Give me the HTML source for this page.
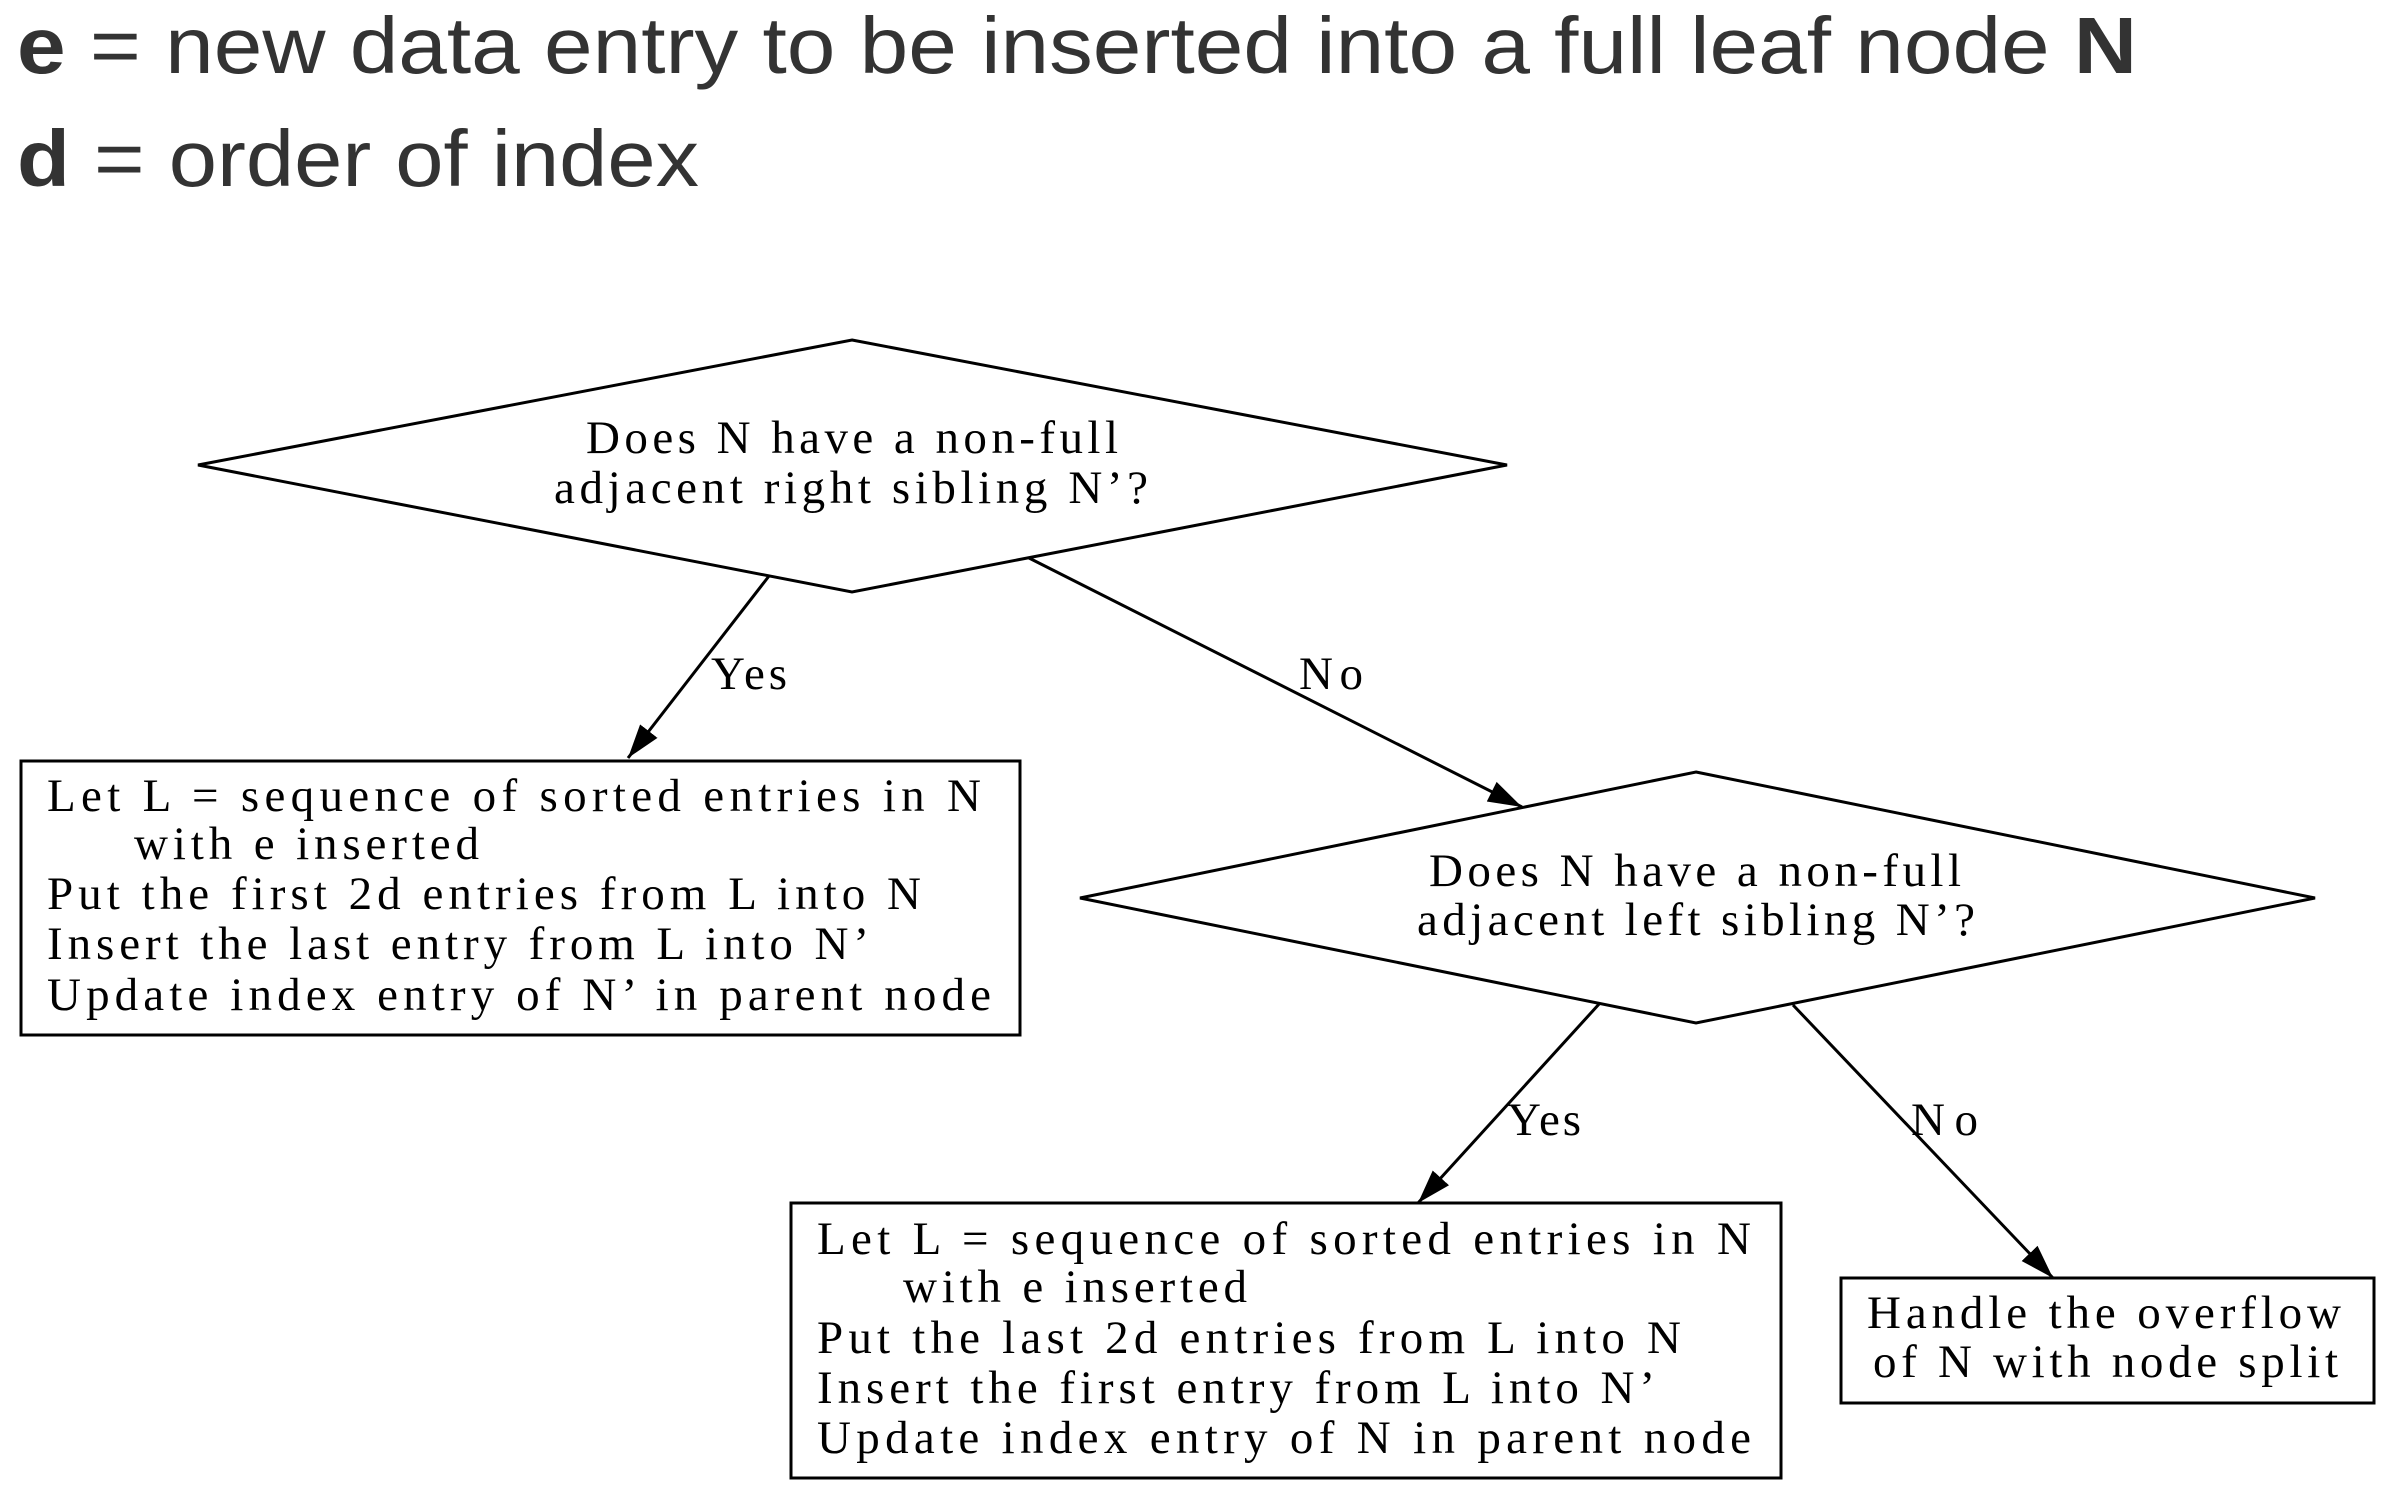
<!DOCTYPE html>
<html><head><meta charset="utf-8"><style>
html,body{margin:0;padding:0;background:#fff;}
svg{display:block;}
.s{font-family:"Liberation Serif",serif;font-size:47px;fill:#000;}
.t{font-family:"Liberation Sans",sans-serif;font-size:80px;fill:#333;}
</style></head><body>
<svg width="2382" height="1486" viewBox="0 0 2382 1486" xmlns="http://www.w3.org/2000/svg">
<defs>
<marker id="a" markerUnits="userSpaceOnUse" markerWidth="36" markerHeight="28" refX="34" refY="14" orient="auto">
<path d="M0,3 L34,14 L0,25 Z" fill="#000"/>
</marker>
</defs>
<text class="t" x="17" y="73" textLength="2120" lengthAdjust="spacingAndGlyphs"><tspan font-weight="bold">e</tspan> = new data entry to be inserted into a full leaf node <tspan font-weight="bold">N</tspan></text>
<text class="t" x="17" y="186" textLength="682" lengthAdjust="spacingAndGlyphs"><tspan font-weight="bold">d</tspan> = order of index</text>

<g fill="none" stroke="#000" stroke-width="3">
<polygon points="852,340 1507,465 852,592 198,465"/>
<polygon points="1696,772 2315,898 1696,1023 1080,898"/>
<rect x="21" y="761" width="999" height="274"/>
<rect x="791" y="1203" width="990" height="275"/>
<rect x="1841" y="1278" width="533" height="125"/>
<line x1="769" y1="576" x2="628" y2="758" marker-end="url(#a)"/>
<line x1="1029" y1="558" x2="1522" y2="807" marker-end="url(#a)"/>
<line x1="1600" y1="1003" x2="1418" y2="1203" marker-end="url(#a)"/>
<line x1="1793" y1="1005" x2="2053" y2="1278" marker-end="url(#a)"/>
</g>

<text class="s" x="586" y="453" textLength="532" lengthAdjust="spacing">Does N have a non-full</text>
<text class="s" x="554" y="503" textLength="594" lengthAdjust="spacing">adjacent right sibling N’?</text>
<text class="s" x="1429" y="886" textLength="532" lengthAdjust="spacing">Does N have a non-full</text>
<text class="s" x="1417" y="935" textLength="558" lengthAdjust="spacing">adjacent left sibling N’?</text>

<text class="s" x="711" y="689" textLength="76" lengthAdjust="spacing">Yes</text>
<text class="s" x="1299" y="689" textLength="64" lengthAdjust="spacing">No</text>
<text class="s" x="1507" y="1135" textLength="74" lengthAdjust="spacing">Yes</text>
<text class="s" x="1911" y="1135" textLength="67" lengthAdjust="spacing">No</text>

<text class="s" x="47" y="811" textLength="934" lengthAdjust="spacing">Let L = sequence of sorted entries in N</text>
<text class="s" x="134" y="859" textLength="345" lengthAdjust="spacing">with e inserted</text>
<text class="s" x="47" y="909" textLength="874" lengthAdjust="spacing">Put the first 2d entries from L into N</text>
<text class="s" x="47" y="959" textLength="822" lengthAdjust="spacing">Insert the last entry from L into N’</text>
<text class="s" x="47" y="1010" textLength="944" lengthAdjust="spacing">Update index entry of N’ in parent node</text>

<text class="s" x="817" y="1254" textLength="934" lengthAdjust="spacing">Let L = sequence of sorted entries in N</text>
<text class="s" x="903" y="1302" textLength="344" lengthAdjust="spacing">with e inserted</text>
<text class="s" x="817" y="1353" textLength="864" lengthAdjust="spacing">Put the last 2d entries from L into N</text>
<text class="s" x="817" y="1403" textLength="838" lengthAdjust="spacing">Insert the first entry from L into N’</text>
<text class="s" x="817" y="1453" textLength="934" lengthAdjust="spacing">Update index entry of N in parent node</text>

<text class="s" x="1867" y="1328" textLength="474" lengthAdjust="spacing">Handle the overflow</text>
<text class="s" x="1873" y="1377" textLength="465" lengthAdjust="spacing">of N with node split</text>
</svg>
</body></html>
